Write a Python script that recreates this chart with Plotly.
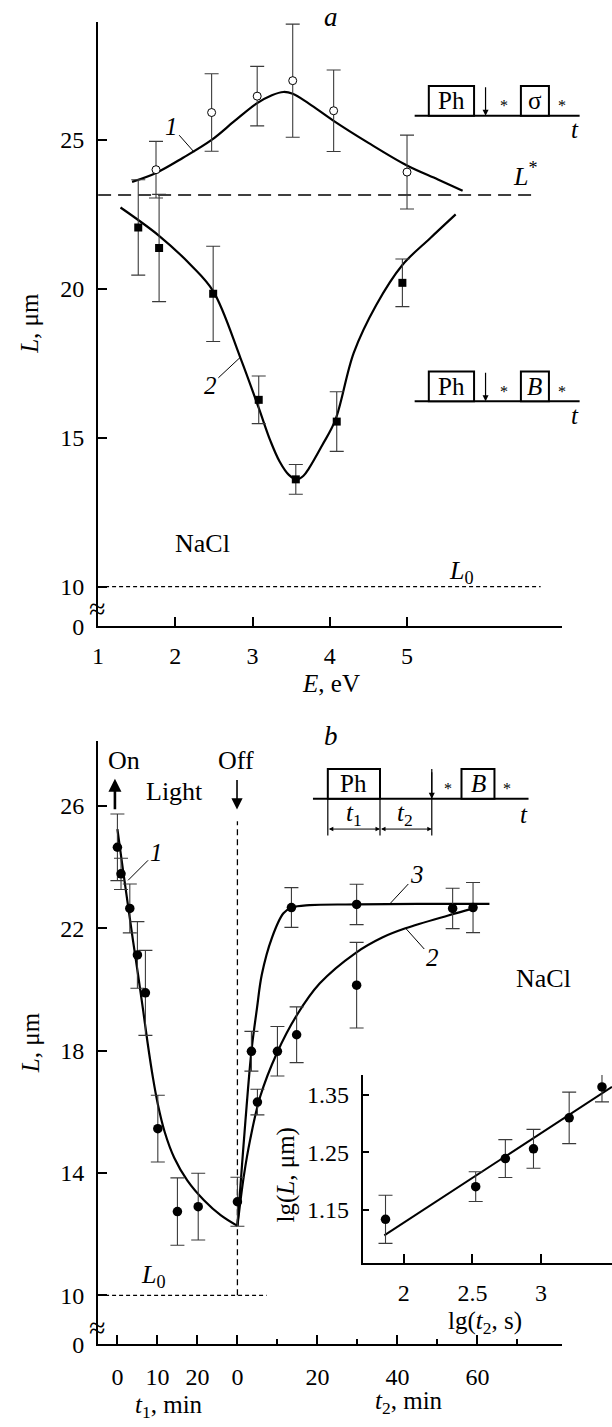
import plotly.graph_objects as go

W, H = 612, 1427
SERIF = "Liberation Serif"
INK = "black"

# ---------------- (a) diffusion length L versus photon energy E ----------------
E_SIGMA = [1.75, 2.47, 3.06, 3.52, 4.05, 5.00]
L_SIGMA = [24.00, 25.92, 26.47, 26.99, 25.98, 23.92]
ERR_SIGMA = [0.95, 1.30, 1.00, 1.90, 1.37, 1.24]

E_B = [1.52, 1.79, 2.49, 3.08, 3.56, 4.09, 4.94]
L_B = [22.06, 21.37, 19.83, 16.27, 13.60, 15.54, 20.20]
ERR_B = [1.60, 1.80, 1.60, 0.80, 0.50, 1.00, 0.80]

CURVE1_E = [1.44, 1.75, 2.10, 2.47, 2.76, 3.05, 3.25, 3.40, 3.52, 3.73, 4.05, 4.50, 5.00, 5.40, 5.72]
CURVE1_L = [23.59, 23.89, 24.40, 25.00, 25.62, 26.22, 26.50, 26.61, 26.55, 26.22, 25.64, 24.90, 24.14, 23.67, 23.29]

CURVE2_E = [1.29, 1.79, 2.20, 2.49, 2.84, 3.08, 3.23, 3.35, 3.47, 3.57, 3.66, 3.73, 3.90, 4.07, 4.31, 4.60, 4.94, 5.30, 5.63]
CURVE2_L = [22.73, 21.78, 20.80, 19.92, 17.70, 16.00, 14.90, 14.20, 13.75, 13.60, 13.72, 13.97, 14.74, 15.58, 17.85, 19.45, 20.80, 21.70, 22.50]

L_STAR = 23.15
L_ZERO = 10.0
E_TICKS = [1, 2, 3, 4, 5]
LA_TICKS = [10, 15, 20, 25]

# ---------------- (b) L during illumination (t1) and after it (t2) ----------------
T_LIGHT = 30  # illumination time, min; the t2 scale starts here

T1_ON = [0.0, 0.9, 3.1, 5.0, 7.0, 10.1, 15.0, 20.2]
L_ON = [24.65, 23.78, 22.65, 21.13, 19.89, 15.45, 12.74, 12.90]
ERR_ON = [1.09, 0.51, 0.80, 1.09, 1.39, 1.09, 1.10, 1.09]

T2_SLOW = [0.0, 5.0, 10.0, 14.8, 29.8, 53.8, 58.9]
L_SLOW = [13.06, 16.32, 17.98, 18.52, 20.14, 22.65, 22.68]
ERR_SLOW = [0.80, 0.42, 0.81, 0.91, 1.40, 0.66, 0.82]

T2_FAST = [3.5, 13.5, 29.8]
L_FAST = [17.98, 22.68, 22.78]
ERR_FAST = [0.65, 0.65, 0.66]

FIT_ON_T = [0, 1.4, 2.7, 3.9, 5.2, 6.4, 7.5, 8.9, 10.1, 11.8, 14.2, 17.5, 21.7, 25.8, 30]
FIT_ON_L = [25.24, 23.90, 22.70, 21.60, 20.45, 19.35, 18.30, 17.10, 16.25, 15.35, 14.50, 13.75, 13.10, 12.62, 12.27]

FIT_FAST_T = [0, 1.0, 2.0, 3.5, 4.9, 6.1, 8.6, 11.5, 13.6, 18, 30, 45, 63]
FIT_FAST_L = [12.27, 14.00, 15.70, 17.98, 19.40, 20.49, 21.68, 22.49, 22.68, 22.76, 22.78, 22.80, 22.80]

FIT_SLOW_T = [0, 1.6, 3.2, 5.7, 9.8, 14.8, 20.6, 29.6, 36.2, 42, 52.7, 59]
FIT_SLOW_L = [12.27, 13.90, 15.10, 16.50, 17.90, 19.15, 20.20, 21.20, 21.70, 22.00, 22.42, 22.65]

LB_TICKS = [10, 14, 18, 22, 26]
T_TICK_POS = [0, 10, 20, 30, 50, 70, 90]
T_TICK_TEXT = ["0", "10", "20", "0", "20", "40", "60"]
T_MINOR = [40, 60, 80, 100]

# ---------------- inset: lg L versus lg t2 ----------------
LG_T2 = [1.867, 2.524, 2.740, 2.945, 3.205, 3.444]
LG_L = [1.133, 1.190, 1.239, 1.256, 1.310, 1.364]
ERR_LG = [0.042, 0.026, 0.033, 0.034, 0.045, 0.026]
LG_FIT_T = [1.858, 3.517]
LG_FIT_L = [1.105, 1.364]


def px(x):
    return x / W


def py(y):
    return 1 - y / H


def t2x(ts):
    return [T_LIGHT + t for t in ts]


fig = go.Figure()

curve = dict(color=INK, width=2.2, shape="spline", smoothing=1.0)
ebar = dict(type="data", visible=True, color="#3a3a3a", thickness=1.1, width=7)

# ---- panel a traces ----
fig.add_trace(go.Scatter(x=[1, 6.65], y=[L_STAR, L_STAR], mode="lines", xaxis="x", yaxis="y",
                         line=dict(color=INK, width=1.3, dash="13px,7px")))
fig.add_trace(go.Scatter(x=[1, 6.73], y=[L_ZERO, L_ZERO], mode="lines", xaxis="x", yaxis="y",
                         line=dict(color=INK, width=1.2, dash="4px,3px")))
fig.add_trace(go.Scatter(x=CURVE1_E, y=CURVE1_L, mode="lines", xaxis="x", yaxis="y", line=curve))
fig.add_trace(go.Scatter(x=CURVE2_E, y=CURVE2_L, mode="lines", xaxis="x", yaxis="y", line=curve))
fig.add_trace(go.Scatter(x=E_SIGMA, y=L_SIGMA, mode="markers", xaxis="x", yaxis="y",
                         error_y=dict(array=ERR_SIGMA, **ebar),
                         marker=dict(symbol="circle", size=8, color="white", line=dict(color=INK, width=1))))
fig.add_trace(go.Scatter(x=E_B, y=L_B, mode="markers", xaxis="x", yaxis="y",
                         error_y=dict(array=ERR_B, **ebar),
                         marker=dict(symbol="square", size=8, color=INK)))

# ---- panel b traces ----
fig.add_trace(go.Scatter(x=[-4.83, 37.3], y=[L_ZERO, L_ZERO], mode="lines", xaxis="x2", yaxis="y2",
                         line=dict(color=INK, width=1.2, dash="4px,3px")))
fig.add_trace(go.Scatter(x=[T_LIGHT, T_LIGHT], y=[L_ZERO, 25.5], mode="lines", xaxis="x2", yaxis="y2",
                         line=dict(color=INK, width=1.3, dash="6px,4px")))
fig.add_trace(go.Scatter(x=FIT_ON_T, y=FIT_ON_L, mode="lines", xaxis="x2", yaxis="y2", line=curve))
fig.add_trace(go.Scatter(x=t2x(FIT_FAST_T), y=FIT_FAST_L, mode="lines", xaxis="x2", yaxis="y2", line=curve))
fig.add_trace(go.Scatter(x=t2x(FIT_SLOW_T), y=FIT_SLOW_L, mode="lines", xaxis="x2", yaxis="y2", line=curve))
dot = dict(symbol="circle", size=9.5, color=INK)
fig.add_trace(go.Scatter(x=T1_ON, y=L_ON, mode="markers", xaxis="x2", yaxis="y2",
                         error_y=dict(array=ERR_ON, **ebar), marker=dot))
fig.add_trace(go.Scatter(x=t2x(T2_SLOW), y=L_SLOW, mode="markers", xaxis="x2", yaxis="y2",
                         error_y=dict(array=ERR_SLOW, **ebar), marker=dot))
fig.add_trace(go.Scatter(x=t2x(T2_FAST), y=L_FAST, mode="markers", xaxis="x2", yaxis="y2",
                         error_y=dict(array=ERR_FAST, **ebar), marker=dot))

# ---- inset traces ----
fig.add_trace(go.Scatter(x=LG_FIT_T, y=LG_FIT_L, mode="lines", xaxis="x3", yaxis="y3",
                         line=dict(color=INK, width=2)))
fig.add_trace(go.Scatter(x=LG_T2, y=LG_L, mode="markers", xaxis="x3", yaxis="y3",
                         error_y=dict(array=ERR_LG, **ebar), marker=dot))

TICKFONT = dict(family=SERIF, size=24, color=INK)


def axis(domain, rng, tickvals, ticktext=None, anchor=None, standoff=7, **kw):
    d = dict(domain=domain, range=rng, anchor=anchor, showline=True, linecolor=INK, linewidth=2,
             ticks="inside", ticklen=9, tickwidth=1.5, tickcolor=INK, tickmode="array",
             tickvals=tickvals, ticktext=ticktext if ticktext else [str(v) for v in tickvals],
             showgrid=False, zeroline=False, tickfont=TICKFONT, ticklabelstandoff=standoff,
             fixedrange=True)
    d.update(kw)
    return d


A_BOT = 10 - 40 / 30.0
B_BOT = 10 - 49.4 / 30.83

fig.update_layout(
    width=W, height=H, margin=dict(l=0, r=0, t=0, b=0),
    paper_bgcolor="white", plot_bgcolor="rgba(0,0,0,0)", showlegend=False,
    font=dict(family=SERIF, color=INK),
    xaxis=axis([px(93), px(562)], [1, 7.013], E_TICKS, anchor="y"),
    yaxis=axis([py(632), py(22)], [A_BOT, 28.967], [A_BOT] + LA_TICKS,
               ["0"] + [str(v) for v in LA_TICKS], anchor="x"),
    xaxis2=axis([px(93), px(562)], [-4.83, 111.26], T_TICK_POS, T_TICK_TEXT, anchor="y2", standoff=10,
                minor=dict(tickvals=T_MINOR, ticks="inside", ticklen=5, tickwidth=1.5, tickcolor=INK)),
    yaxis2=axis([py(1356.7), py(747.7)], [B_BOT, 28.128], [B_BOT] + LB_TICKS,
                ["0"] + [str(v) for v in LB_TICKS], anchor="x2"),
    xaxis3=axis([px(360.3), 1.0], [1.7013, 3.517], [2, 2.5, 3], ["2", "2.5", "3"], anchor="y3"),
    yaxis3=axis([py(1275), py(1085)], [1.0561, 1.3846], [1.15, 1.25, 1.35], ["1.15", "1.25", "1.35"],
                anchor="x3", ticklen=6),
)

ann = []
shapes = []


def text(s, x, y, size=25, angle=0, xanchor="center"):
    ann.append(dict(text=s, x=px(x), y=py(y), xref="paper", yref="paper", showarrow=False,
                    xanchor=xanchor, yanchor="middle", textangle=angle,
                    font=dict(family=SERIF, size=size, color=INK)))


def arrow(x, y, dx, dy, width=1.2, size=1.0, both=False):
    d = dict(text="", x=px(x), y=py(y), xref="paper", yref="paper", showarrow=True,
             ax=dx, ay=dy, axref="pixel", ayref="pixel", arrowhead=2, arrowsize=size,
             arrowwidth=width, arrowcolor=INK, standoff=0, startstandoff=0)
    if both:
        d.update(arrowside="end+start", startarrowhead=2, startarrowsize=size)
    ann.append(d)


def line(x0, y0, x1, y1, width=2):
    shapes.append(dict(type="line", xref="paper", yref="paper", x0=px(x0), y0=py(y0),
                       x1=px(x1), y1=py(y1), line=dict(color=INK, width=width)))


def box(x0, y0, x1, y1):
    shapes.append(dict(type="rect", xref="paper", yref="paper", x0=px(x0), y0=py(y0),
                       x1=px(x1), y1=py(y1), line=dict(color=INK, width=2), fillcolor="white"))


def leader(label, x, y, xa, ya, dx, dy):
    ann.append(dict(text="<i>%s</i>" % label, x=x, y=y, xref=xa, yref=ya, showarrow=True,
                    ax=dx, ay=dy, arrowhead=0, arrowwidth=1, arrowcolor=INK, standoff=0,
                    font=dict(family=SERIF, size=25, color=INK)))


# panel letters and sample name
text("<i>a</i>", 328, 17, 27)
text("<i>b</i>", 328, 743, 27)
text("NaCl", 198, 548, 26)
text("NaCl", 543, 988, 26)

# axis titles
text("<i>L</i>, μm", 23, 326, 25, angle=-90)
text("<i>L</i>, μm", 25, 1052, 25, angle=-90)
text("<i>E</i>, eV", 328, 690, 25)
text("<i>t</i><sub>1</sub>, min", 165, 1419, 25)
text("<i>t</i><sub>2</sub>, min", 407, 1415, 25)
text("lg(<i>L</i>, μm)", 283, 1186, 25, angle=-90)
text("lg(<i>t</i><sub>2</sub>, s)", 484, 1335, 25)

# axis breaks
text("≈", 92, 614, 30)
text("≈", 92, 1340, 30)

# reference levels
text("<i>L</i><sup>*</sup>", 525, 176, 26)
text("<i>L</i><sub>0</sub>", 460, 577, 26)
text("<i>L</i><sub>0</sub>", 149, 1288, 26)

# curve labels
leader("1", 2.244, 24.59, "x", "y", -23, -26)
leader("2", 2.842, 17.70, "x", "y", -30, 28)
leader("1", 2.67, 23.57, "x2", "y2", 28, -28)
leader("3", 68.1, 22.80, "x2", "y2", 27, -29)
leader("2", 72.2, 21.98, "x2", "y2", 26, 29)

# light on / off markers
text("On", 119, 767, 26)
text("Off", 232, 767, 26)
text("Light", 170, 799, 26)
arrow(110, 786, 0, 32, width=2.6, size=1.0)
arrow(233.3, 817, 0, -31, width=1.6, size=1.4)

# timing schemes in panel a: light pulse (Ph), then probe (σ or B)
for base, probe in ((116.7, "σ"), (405, "<i>B</i>")):
    line(412.7, base, 579.3, base)
    box(427, base - 30, 472.7, base)
    text("Ph", 449.9, base - 15, 25)
    arrow(484.3, base, 0, -30, width=1.2, size=1.0)
    text("*", 503.3, base - 10, 16)
    box(520, base - 30, 548.3, base)
    text(probe, 534.2, base - 15, 25)
    text("*", 561, base - 10, 16)
    text("<i>t</i>", 575, base + 14, 25)

# timing scheme in panel b with the t1 / t2 intervals
base = 806
line(310, base, 527.7, base)
box(325, base - 30, 377.7, base)
text("Ph", 351.3, base - 15, 25)
line(430, base - 30, 430, 843.3, width=1.2)
arrow(430, base, 0, -28, width=1.2, size=1.0)
line(325, base, 325, 843.3, width=1.2)
line(377.7, base, 377.7, 843.3, width=1.2)
arrow(377.7, 836.7, -52.7, 0, width=1, size=0.9, both=True)
arrow(430, 836.7, -52.3, 0, width=1, size=0.9, both=True)
text("<i>t</i><sub>1</sub>", 351, 822, 25)
text("<i>t</i><sub>2</sub>", 403, 822, 25)
text("*", 446, base - 10, 16)
box(460, base - 30, 493.3, base)
text("<i>B</i>", 476.7, base - 15, 25)
text("*", 506, base - 10, 16)
text("<i>t</i>", 523, 822, 25)

fig.update_layout(annotations=ann, shapes=shapes)
fig.write_html("out.html")
